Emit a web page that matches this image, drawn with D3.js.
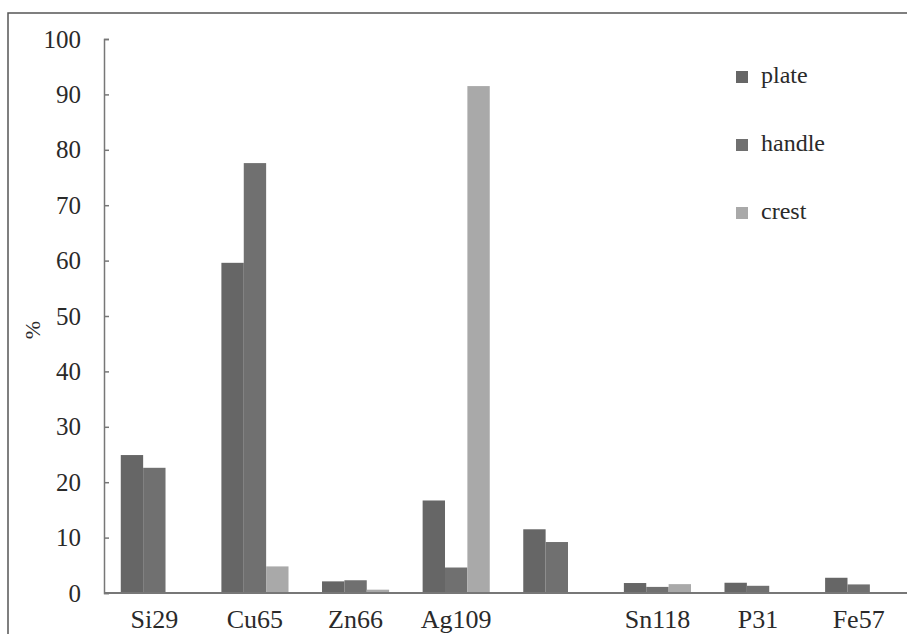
<!DOCTYPE html>
<html>
<head>
<meta charset="utf-8">
<script src="https://cdn.jsdelivr.net/npm/d3@7"></script>
<style>
  body { margin: 0; background: #fff; }
  svg text { font-family: "Times New Roman", Times, "Liberation Serif", "DejaVu Serif", serif; fill: #2a2a2a; }
</style>
</head>
<body>
<svg id="chart" width="907" height="634"></svg>
<script>
// data
const categories = ["Si29", "Cu65", "Zn66", "Ag109", "", "Sn118", "P31", "Fe57"];
const seriesNames = ["plate", "handle", "crest"];
const plate  = [24.9, 59.6, 2.1, 16.7, 11.5, 1.8, 1.85, 2.75];
const handle = [22.6, 77.6, 2.3, 4.6, 9.2, 1.1, 1.3, 1.55];
const crest  = [0, 4.8, 0.6, 91.5, 0, 1.6, 0, 0];
const yTicks = [0, 10, 20, 30, 40, 50, 60, 70, 80, 90, 100];
const colors = ["#666666", "#707070", "#a9a9a9"];

const series = [plate, handle, crest];
const serif = '"Times New Roman", Times, "Liberation Serif", "DejaVu Serif", serif';

let svg = d3.select("#chart");
let plotLeft = 104, plotRight = 909, plotTop = 39, plotBottom = 593;

// frame round the chart
svg.append("path")
  .attr("d", "M8,634V13H907")
  .attr("fill", "none")
  .attr("stroke", "#555")
  .attr("stroke-width", 1.5);

let x = d3.scaleBand()
  .domain(categories)
  .range([plotLeft, plotRight])
  .paddingInner(0.333)
  .paddingOuter(0.1667);

let xSub = d3.scaleBand()
  .domain(seriesNames)
  .range([0, x.bandwidth()]);

let y = d3.scaleLinear()
  .domain([0, 100])
  .range([plotBottom, plotTop]);

// bars
seriesNames.forEach(function (name, si) {
  svg.append("g")
    .selectAll("rect")
    .data(series[si])
    .enter()
    .append("rect")
    .attr("x", (d, i) => x(categories[i]) + xSub(name))
    .attr("width", xSub.bandwidth())
    .attr("y", (d) => y(d))
    .attr("height", (d) => plotBottom - y(d))
    .attr("fill", colors[si]);
});

// y axis, ticks point inward
let yAxis = svg.append("g")
  .attr("transform", `translate(${plotLeft},0)`)
  .call(d3.axisLeft(y).tickValues(yTicks).tickSizeInner(-5).tickSizeOuter(-5).tickPadding(23));
yAxis.attr("font-family", serif);
yAxis.select(".domain").attr("stroke", "#777").attr("stroke-width", 1.5);
yAxis.selectAll(".tick line").attr("stroke", "#777").attr("stroke-width", 1.5);
yAxis.selectAll(".tick text")
  .style("font-family", serif)
  .style("font-size", "25px")
  .attr("fill", "#2a2a2a");

// x axis baseline
svg.append("line")
  .attr("x1", plotLeft).attr("x2", 907)
  .attr("y1", plotBottom).attr("y2", plotBottom)
  .attr("stroke", "#777")
  .attr("stroke-width", 2);

// category labels
svg.append("g")
  .selectAll("text")
  .data(categories)
  .enter()
  .append("text")
  .attr("x", (d) => x(d) + x.bandwidth() / 2)
  .attr("y", 628)
  .attr("text-anchor", "middle")
  .style("font-family", serif)
  .style("font-size", "26px")
  .text((d) => d);

// y label
svg.append("text")
  .attr("transform", "translate(40,330) rotate(-90)")
  .attr("text-anchor", "middle")
  .style("font-family", serif)
  .style("font-size", "22px")
  .text("%");

// legend
let legend = svg.append("g")
  .selectAll("g")
  .data(seriesNames)
  .enter()
  .append("g")
  .attr("transform", (d, i) => `translate(736,${71 + i * 68})`);

legend.append("rect")
  .attr("width", 12)
  .attr("height", 12)
  .attr("fill", (d, i) => colors[i]);

legend.append("text")
  .attr("x", 25)
  .attr("y", 12)
  .style("font-family", serif)
  .style("font-size", "24px")
  .text((d) => d);
</script>
</body>
</html>
